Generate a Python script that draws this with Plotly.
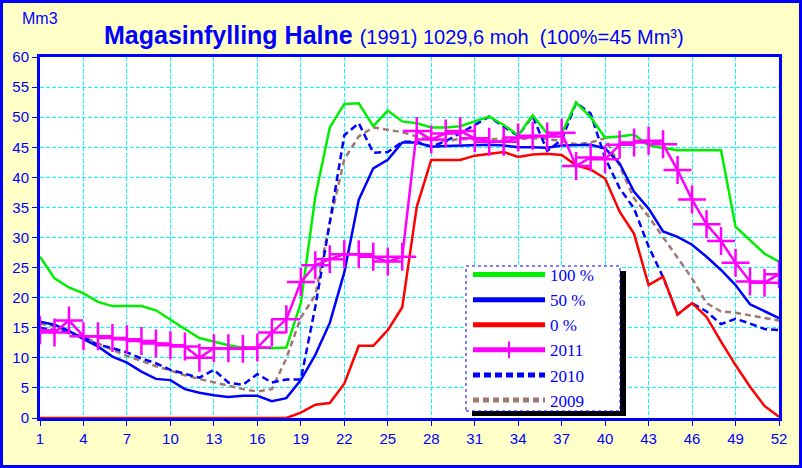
import plotly.graph_objects as go

weeks = list(range(1, 53))

pct100 = [26.8, 23.2, 21.7, 20.7, 19.3, 18.6, 18.6, 18.6, 17.9, 16.3,
          14.8, 13.3, 12.7, 12.1, 11.7, 11.6, 11.6, 11.7, 19.1, 36.8,
          48.3, 52.2, 52.3, 48.5, 51.1, 49.3, 49.0, 48.3, 48.3, 48.5,
          49.3, 50.1, 48.7, 47.0, 50.3, 47.3, 47.3, 52.4, 50.0, 46.6,
          46.8, 47.1, 45.3, 44.9, 44.5, 44.5, 44.5, 44.5, 31.8, 29.6,
          27.3, 26.0]

pct50 = [16.0, 15.5, 14.5, 13.1, 11.9, 10.2, 9.2, 7.7, 6.5, 6.3,
         4.8, 4.2, 3.8, 3.5, 3.7, 3.7, 2.8, 3.3, 6.3, 10.5,
         15.8, 24.2, 36.3, 41.5, 42.9, 45.8, 45.8, 45.1, 45.2, 45.3,
         45.4, 45.4, 45.3, 45.0, 45.0, 44.9, 45.3, 45.4, 45.4, 44.8,
         42.3, 37.6, 34.8, 31.0, 30.1, 28.8, 26.8, 24.6, 22.1, 18.9,
         17.8, 16.6]

pct0 = [0, 0, 0, 0, 0, 0, 0, 0, 0, 0,
        0, 0, 0, 0, 0, 0, 0, 0, 0.9, 2.2,
        2.5, 5.7, 12.0, 12.0, 14.6, 18.4, 35.1, 42.9, 42.9, 42.9,
        43.6, 43.9, 44.2, 43.4, 43.8, 43.9, 43.7, 42.0, 41.3, 39.8,
        34.3, 30.6, 22.1, 23.5, 17.2, 19.1, 16.8, 12.7, 8.8, 5.2,
        2.0, 0.2]

y2011 = [14.6, 14.2, 16.2, 13.6, 13.6, 13.3, 13.1, 12.8, 12.4, 12.1,
         11.9, 10.0, 11.6, 11.6, 11.5, 11.7, 14.2, 16.4, 22.6, 25.4,
         26.4, 27.2, 27.2, 26.8, 26.0, 26.8, 47.7, 46.3, 47.3, 47.7,
         46.5, 45.9, 45.9, 46.6, 46.9, 46.8, 47.4, 41.9, 43.3, 43.0,
         45.4, 45.8, 46.1, 45.5, 41.2, 36.3, 32.2, 29.4, 25.8, 22.7,
         22.5, 23.9]

y2010 = [15.0, 14.6, 14.2, 13.4, 12.2, 11.6, 10.9, 9.9, 9.1, 8.0,
         7.3, 6.7, 8.0, 5.9, 5.5, 7.3, 5.9, 6.4, 6.4, 18.5,
         32.5, 47.0, 49.0, 44.1, 44.2, 45.9, 45.9, 45.1, 46.0, 47.3,
         48.7, 50.1, 48.4, 46.9, 50.2, 44.4, 46.2, 52.4, 50.6, 43.2,
         38.2, 34.8, 28.5, 23.4, 17.2, 19.1, 17.7, 15.6, 16.5, 15.7,
         14.8, 14.6]

y2009 = [15.7, 15.2, 14.3, 13.5, 12.4, 11.3, 10.3, 9.5, 8.6, 7.9,
         7.1, 6.5, 5.9, 5.3, 4.8, 4.4, 4.8, 9.9, 16.7, 20.4,
         32.5, 43.0, 46.8, 48.3, 47.9, 47.5, 46.8, 46.3, 46.0, 46.4,
         46.3, 46.3, 46.3, 46.4, 46.5, 46.4, 46.0, 45.5, 45.8, 46.5,
         41.9, 36.5, 33.5, 30.1, 26.8, 23.2, 19.1, 17.7, 17.5, 17.1,
         16.7, 16.2]

xtick_vals = [1, 4, 7, 10, 13, 16, 19, 22, 25, 28, 31, 34, 37, 40, 43, 46, 49, 52]

BLUE = "#0000FF"
CYAN = "#00FFFF"
fig = go.Figure()

fig.add_trace(go.Scatter(x=weeks, y=y2009, name="2009", mode="lines", legendrank=6,
                         line=dict(color="#A07870", width=2.5, dash="6px,4px")))
fig.add_trace(go.Scatter(x=weeks, y=y2010, name="2010", mode="lines", legendrank=5,
                         line=dict(color=BLUE, width=2.5, dash="7px,4px")))
fig.add_trace(go.Scatter(x=weeks, y=pct0, name="0 %", mode="lines", legendrank=3,
                         line=dict(color="#FF0000", width=2.5)))
fig.add_trace(go.Scatter(x=weeks, y=pct50, name="50 %", mode="lines", legendrank=2,
                         line=dict(color=BLUE, width=2.5)))
fig.add_trace(go.Scatter(x=weeks, y=pct100, name="100 %", mode="lines", legendrank=1,
                         line=dict(color="#00EE00", width=2.5)))
fig.add_trace(go.Scatter(x=weeks, y=y2011, name="2011", mode="lines+markers", legendrank=4,
                         line=dict(color="#FF00FF", width=2.5),
                         marker=dict(symbol="cross-thin", size=20,
                                     line=dict(color="#FF00FF", width=2.5))))

L, T, W, H = 40, 57, 739, 361


def px(x):
    return (x - L) / W


def py(y):
    return (T + H - y) / H


# legend box (drawn as shapes behind the transparent native legend)
BOX_X0, BOX_X1, BOX_Y0, BOX_Y1 = 466, 620, 266, 411

shapes = [
    dict(type="rect", xref="paper", yref="paper", layer="above",
         x0=px(BOX_X0 + 6), x1=px(BOX_X1 + 6), y0=py(BOX_Y1 + 5), y1=py(BOX_Y0 + 5),
         fillcolor="black", line=dict(width=0)),
    dict(type="rect", xref="paper", yref="paper", layer="above",
         x0=px(BOX_X0), x1=px(BOX_X1), y0=py(BOX_Y1), y1=py(BOX_Y0),
         fillcolor="white", line=dict(color=BLUE, width=1, dash="dot")),
    # outer frame
    dict(type="rect", xref="paper", yref="paper", layer="above",
         x0=px(1.5), x1=px(800.5), y0=py(466.5), y1=py(1.5),
         line=dict(color=BLUE, width=3), fillcolor="rgba(0,0,0,0)"),
]

annotations = [
    dict(text="<b>Magasinfylling Halne</b> <span style='font-size:20px'>(1991) 1029,6 moh  (100%=45 Mm³)</span>",
         xref="paper", yref="paper", x=px(394), y=py(35), showarrow=False,
         xanchor="center", yanchor="middle",
         font=dict(family="Liberation Sans, Arial", size=25, color=BLUE)),
    dict(text="Mm3", xref="paper", yref="paper", x=px(40), y=py(19), showarrow=False,
         xanchor="center", yanchor="middle",
         font=dict(family="Liberation Sans, Arial", size=16, color=BLUE)),
]

fig.update_layout(
    width=802, height=468,
    margin=dict(l=L, r=802 - L - W, t=T, b=468 - T - H),
    paper_bgcolor="#FFFFC8", plot_bgcolor="white",
    showlegend=True,
    legend=dict(x=px(468), y=py(257), xanchor="left", yanchor="top",
                bgcolor="rgba(0,0,0,0)", borderwidth=0,
                font=dict(family="Liberation Serif, Times New Roman", size=17, color=BLUE),
                itemwidth=72, itemsizing="constant", tracegroupgap=0),
    shapes=shapes, annotations=annotations,
    font=dict(family="Liberation Sans, Arial", size=15, color=BLUE),
)

axis_style = dict(showgrid=True, gridcolor=CYAN, griddash="4px,2px", gridwidth=1,
                  showline=True, linecolor=BLUE, linewidth=3, mirror=True,
                  ticks="outside", ticklen=5, tickcolor=BLUE, tickwidth=1,
                  tickfont=dict(size=15, color=BLUE), zeroline=False)
fig.update_xaxes(range=[1, 52], tickvals=xtick_vals, **axis_style)
fig.update_yaxes(range=[0, 60], dtick=5, **axis_style)

fig.write_html("out.html", config={"displayModeBar": False},
               post_script="document.body.style.margin='0';")
